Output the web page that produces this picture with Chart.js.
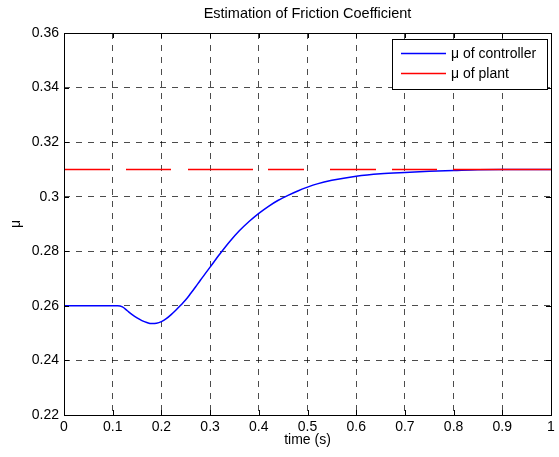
<!DOCTYPE html>
<html>
<head>
<meta charset="utf-8">
<script src="https://cdn.jsdelivr.net/npm/chart.js@4.4.1/dist/chart.umd.min.js"></script>
<style>
  html, body { margin: 0; padding: 0; background: #fff; }
  #wrap { width: 559px; height: 457px; }
</style>
</head>
<body>
<div id="wrap"><canvas id="muChart" width="559" height="457"></canvas></div>
<script>
// =====================
// Data
// =====================
const timeS = [0, 0.05, 0.1, 0.11, 0.12, 0.13, 0.14, 0.15, 0.16, 0.17, 0.18, 0.19, 0.2,
  0.21, 0.22, 0.23, 0.24, 0.25, 0.26, 0.27, 0.28, 0.29, 0.3, 0.32, 0.34, 0.36, 0.38,
  0.4, 0.42, 0.44, 0.46, 0.48, 0.5, 0.52, 0.55, 0.6, 0.65, 0.7, 0.75, 0.8, 0.85, 0.9, 1.0];
const muController = [0.26, 0.26, 0.26, 0.26, 0.2596, 0.2582, 0.2568, 0.2556, 0.2546, 0.2539,
  0.2535, 0.2536, 0.2542, 0.2553, 0.2568, 0.2585, 0.2603, 0.2622, 0.2645, 0.2669, 0.2694,
  0.2718, 0.2742, 0.2790, 0.2835, 0.2875, 0.2909, 0.2939, 0.2965, 0.2987, 0.3005, 0.3021,
  0.3035, 0.3047, 0.3060, 0.3075, 0.3084, 0.3089, 0.3093, 0.3096, 0.3099, 0.31, 0.31];
const plantTime = [0, 1];
const muPlant = [0.31, 0.31];

const xTicks = [0, 0.1, 0.2, 0.3, 0.4, 0.5, 0.6, 0.7, 0.8, 0.9, 1];
const yTicks = [0.22, 0.24, 0.26, 0.28, 0.3, 0.32, 0.34, 0.36];

const seriesNames = ['\u03bc of controller', '\u03bc of plant'];

const FONT = '"Liberation Sans", Arial, Helvetica, sans-serif';

function toPoints(xs, ys) {
  return xs.map((x, i) => ({ x: x, y: ys[i] }));
}

// =====================
// Plugins: frame, inner ticks, title, legend
// =====================
const matlabAxes = {
  id: 'matlabAxes',
  afterDatasetsDraw(chart) {
    const { ctx, chartArea: a, scales } = chart;
    ctx.save();
    ctx.strokeStyle = '#000';
    ctx.lineWidth = 1;
    ctx.setLineDash([]);
    ctx.beginPath();
    xTicks.forEach(v => {
      const px = Math.round(scales.x.getPixelForValue(v)) + 0.5;
      ctx.moveTo(px, a.bottom); ctx.lineTo(px, a.bottom - 5);
      ctx.moveTo(px, a.top); ctx.lineTo(px, a.top + 5);
    });
    yTicks.forEach(v => {
      const py = Math.round(scales.y.getPixelForValue(v)) + 0.5;
      ctx.moveTo(a.left, py); ctx.lineTo(a.left + 5, py);
      ctx.moveTo(a.right, py); ctx.lineTo(a.right - 5, py);
    });
    ctx.stroke();
    ctx.strokeRect(Math.round(a.left) + 0.5, Math.round(a.top) + 0.5,
      Math.round(a.right - a.left), Math.round(a.bottom - a.top));
    ctx.restore();
  },
  afterDraw(chart) {
    const { ctx, chartArea: a } = chart;
    ctx.save();
    // title
    ctx.fillStyle = '#000';
    ctx.font = '14.5px ' + FONT;
    ctx.textAlign = 'center';
    ctx.textBaseline = 'middle';
    ctx.fillText('Estimation of Friction Coefficient', (a.left + a.right) / 2, 14);

    // legend box
    const bx = 392, by = 39, bw = 155, bh = 50;
    ctx.fillStyle = '#fff';
    ctx.fillRect(bx, by, bw, bh);
    ctx.strokeStyle = '#000';
    ctx.lineWidth = 1;
    ctx.strokeRect(bx + 0.5, by + 0.5, bw, bh);
    const colors = ['#0000ff', '#ff0000'];
    seriesNames.forEach((name, i) => {
      const ly = by + 14 + i * 20;
      ctx.strokeStyle = colors[i];
      ctx.lineWidth = 1.3;
      ctx.beginPath();
      ctx.moveTo(bx + 9, ly + 0.5);
      ctx.lineTo(bx + 54, ly + 0.5);
      ctx.stroke();
      ctx.fillStyle = '#000';
      ctx.font = '14px ' + FONT;
      ctx.textAlign = 'left';
      ctx.textBaseline = 'middle';
      ctx.fillText(name, bx + 59, ly + 1);
    });
    ctx.restore();
  }
};

// =====================
// Chart
// =====================
const ctx = document.getElementById('muChart').getContext('2d');

new Chart(ctx, {
  type: 'line',
  data: {
    datasets: [
      {
        label: seriesNames[1],
        data: toPoints(plantTime, muPlant),
        borderColor: '#ff0000',
        borderWidth: 1.4,
        pointRadius: 0,
        borderDash: [46, 16, 45, 17, 65, 15, 36, 26, 46, 16, 45, 16, 100]
      },
      {
        label: seriesNames[0],
        data: toPoints(timeS, muController),
        borderColor: '#0000ff',
        borderWidth: 1.5,
        pointRadius: 0,
        cubicInterpolationMode: 'monotone'
      }
    ]
  },
  options: {
    responsive: false,
    animation: false,
    layout: { padding: { top: 33, right: 8, left: 0, bottom: 0 } },
    plugins: {
      legend: { display: false },
      tooltip: { enabled: false }
    },
    scales: {
      x: {
        type: 'linear',
        min: 0,
        max: 1,
        afterBuildTicks: s => { s.ticks = xTicks.map(v => ({ value: v })); },
        afterFit: s => { s.height = 42; },
        ticks: {
          color: '#000',
          font: { family: FONT, size: 14 },
          padding: 4,
          maxRotation: 0,
          callback: v => String(v)
        },
        grid: { color: 'rgba(0,0,0,0.7)', lineWidth: 1, drawTicks: false },
        border: { display: false, dash: [6, 6] },
        title: {
          display: true,
          text: 'time (s)',
          color: '#000',
          font: { family: FONT, size: 14 },
          padding: { top: 0, bottom: 8 }
        }
      },
      y: {
        type: 'linear',
        min: 0.22,
        max: 0.36,
        afterBuildTicks: s => { s.ticks = yTicks.map(v => ({ value: v })); },
        afterFit: s => { s.width = 64; },
        ticks: {
          color: '#000',
          font: { family: FONT, size: 14 },
          padding: 5,
          callback: v => String(Math.round(v * 100) / 100)
        },
        grid: { color: 'rgba(0,0,0,0.7)', lineWidth: 1, drawTicks: false },
        border: { display: false, dash: [6, 6] },
        title: {
          display: true,
          text: '\u03bc',
          color: '#000',
          font: { family: FONT, size: 14 },
          padding: { top: 8, bottom: 0 }
        }
      }
    }
  },
  plugins: [matlabAxes]
});
</script>
</body>
</html>
